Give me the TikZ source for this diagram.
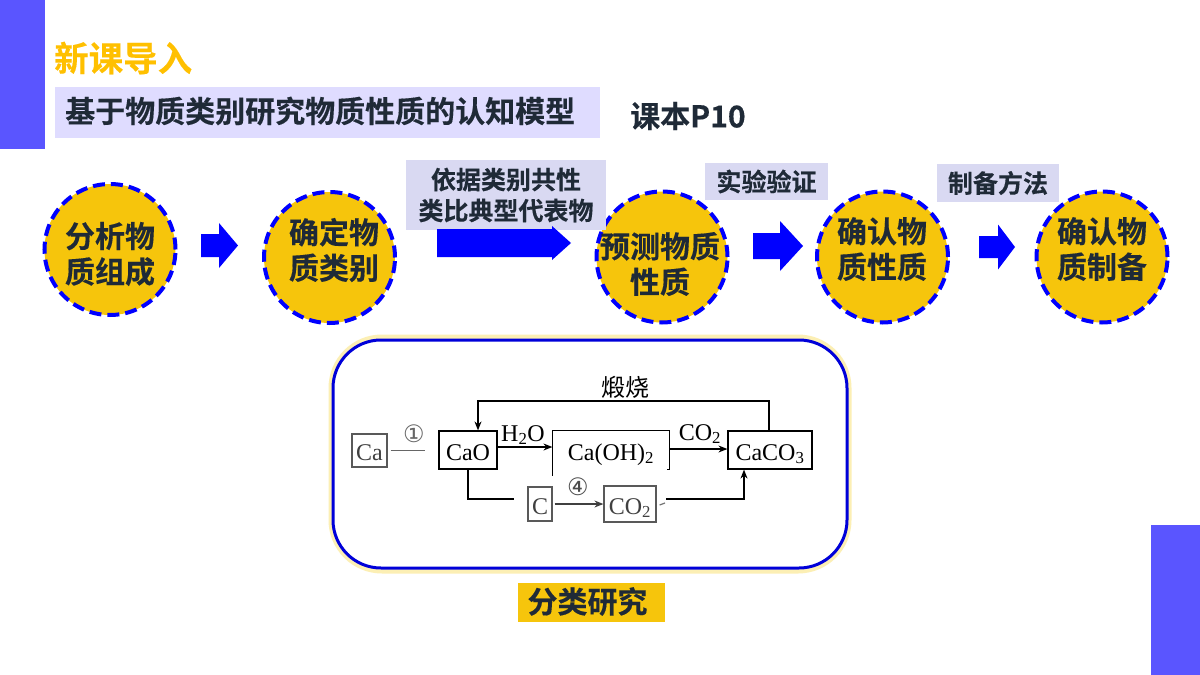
\documentclass[tikz,border=0pt]{standalone}
\usepackage{fontspec}
\setmainfont{Liberation Serif}
\newfontfamily\cjkb[FakeBold=0.3]{Noto Sans CJK SC Bold}
\newfontfamily\cjkr{Noto Sans CJK SC}
\newfontfamily\symf{DejaVu Sans}
\usetikzlibrary{arrows.meta}
\definecolor{barblue}{HTML}{5A55FF}
\definecolor{lilac}{HTML}{DFDCFF}
\definecolor{lilacb}{HTML}{D9D9F2}
\definecolor{gold}{HTML}{F6C50C}
\definecolor{titlegold}{HTML}{FFC000}
\definecolor{inkdark}{HTML}{1F2A37}
\definecolor{glow}{HTML}{FCEFB4}
\newcommand{\blockarrow}[6]{\fill[blue] (#1,#4-#5) -- (#3,#4-#5) -- (#3,#4-#6) -- (#2,#4) -- (#3,#4+#6) -- (#3,#4+#5) -- (#1,#4+#5) -- cycle;}
\newcommand{\fs}[1]{\fontsize{#1}{#1}\selectfont}
\newcommand{\fsl}[2]{\fontsize{#1}{#2}\selectfont}
\tikzset{
 x=1pt,y=-1pt,
 bar/.style={fill=barblue,draw=none},
 stepc/.style={circle,minimum size=131pt,inner sep=0pt,fill=gold,draw=blue,line width=4pt,dash pattern=on 12pt off 6pt},
 steptext/.style={inner sep=0pt,text=inkdark,align=center,font=\cjkb\fsl{30}{35.5}},
 tag/.style={fill=lilacb,text=inkdark,font=\cjkb\fsl{25}{31},inner sep=0pt,align=center},
 chem/.style={draw=black,line width=1.2pt,inner sep=0pt,font=\fs{24},text height=20pt,text depth=0pt},
 chemg/.style={draw=black!65,line width=1.2pt,inner sep=0pt,font=\fs{24},text=black!75,text height=20pt,text depth=0pt},
 lab/.style={inner sep=0pt,font=\fs{24}},
 con/.style={draw=black,line width=1.2pt},
 arr/.style={con,-{Stealth[length=9pt,width=7pt]}},
}
\begin{document}
\begin{tikzpicture}
\useasboundingbox (0,0) rectangle (1200,675);
\fill[white] (0,0) rectangle (1200,675);
\path[bar] (0,0) rectangle (45,149);
\path[bar] (1151,525) rectangle (1200,675);
\node[anchor=west,inner sep=0pt,text=titlegold,font=\cjkb\fs{34.5}] (title) at (54,58) {新课导入};
\node[minimum width=545pt,minimum height=51pt,fill=lilac,inner sep=0pt] (subbox) at (327.5,112.5) {};
\node[anchor=west,inner sep=0pt,text=inkdark,font=\cjkb\fs{30}] (sub) at (65,111) {基于物质类别研究物质性质的认知模型};
\node[anchor=west,inner sep=0pt,text=inkdark,font=\cjkb\fs{30}] (book) at (630,116) {课本P10};
\node[stepc] (c1) at (110,249.5) {};
\node[stepc] (c2) at (329.5,257.5) {};
\node[stepc] (c3) at (662,257) {};
\node[stepc] (c4) at (882.5,257) {};
\node[stepc] (c5) at (1102,257) {};
\node[steptext] (s1) at (110,254) {分析物\\质组成};
\node[steptext] (s2) at (334,250) {确定物\\质类别};
\node[steptext] (s3) at (660,264) {预测物质\\性质};
\node[steptext] (s4) at (882,249) {确认物\\质性质};
\node[steptext] (s5) at (1102,249) {确认物\\质制备};
\node[tag,minimum width=200pt,minimum height=70pt] (t1) at (506,195) {依据类别共性\\类比典型代表物};
\node[tag,minimum width=123pt,minimum height=37pt] (t2) at (766.5,181.5) {实验验证};
\node[tag,minimum width=122pt,minimum height=38pt] (t3) at (998,183) {制备方法};
\blockarrow{201}{238}{219}{245.5}{11.5}{22.5}
\blockarrow{437}{571}{552}{243}{14}{17}
\blockarrow{753}{803}{780}{246}{13}{25}
\blockarrow{979}{1015}{998}{247}{11}{22.5}
% frame
\node[minimum width=516pt,minimum height=232pt,rounded corners=50pt,draw=glow,line width=7pt,inner sep=0pt] (frameglow) at (590,454) {};
\node[minimum width=514pt,minimum height=228pt,rounded corners=48pt,draw=blue!85!black,line width=3pt,fill=white,inner sep=0pt] (frame) at (590,454) {};
\node[minimum width=147pt,minimum height=39pt,fill=gold,inner sep=0pt] (clsbox) at (591.5,602.5) {};
\node[text=inkdark,font=\cjkb\fs{30},inner sep=0pt] (cls) at (587.5,601.5) {分类研究};
% scheme
\node[chemg,minimum width=35pt,minimum height=33pt] (ca) at (369.5,450.5) {Ca};
\node[chem,minimum width=58pt,minimum height=38pt] (cao) at (468,450) {CaO};
\node[chem,draw=none,minimum width=116pt,minimum height=38pt] (oh) at (611,450) {Ca(OH)\textsubscript{2}};
\node[chem,minimum width=84pt,minimum height=38pt] (caco) at (770,450) {CaCO\textsubscript{3}};
\node[chemg,minimum width=24pt,minimum height=34pt] (cc) at (540,504) {C};
\node[chemg,minimum width=52pt,minimum height=36pt] (co) at (630,504) {CO\textsubscript{2}};
\node[inner sep=0pt,font=\cjkr\fs{24}] (duan) at (625,387) {煅烧};
\node[lab] (h2o) at (523,435) {H\textsubscript{2}O};
\node[lab] (co2l) at (700,434) {CO\textsubscript{2}};
\node[inner sep=0pt,font=\symf\fs{24},text=black!60] (n1) at (414,434) {①};
\node[inner sep=0pt,font=\symf\fs{24},text=black!70] (n4) at (578,487) {④};
\coordinate (caend) at (425,450.5);
\draw[con,draw=black!60] ([xshift=3pt]ca.east) -- (caend);
\draw[con] ([yshift=-6pt]oh.south west) -- (oh.north west) -- (oh.north east) -- (oh.south east) -- ++(-3,0);
\draw[arr] ([yshift=3pt]cao.east) -- ([yshift=3pt]oh.west);
\draw[arr] ([yshift=1pt]oh.east) -- ([yshift=1pt]caco.west);
\coordinate (topr) at (769,401);
\coordinate (topl) at (478,401);
\draw[arr] (caco.north -| topr) -- (topr) -- (topl) -- (cao.north -| topl);
\coordinate (lowa) at (468,499);
\coordinate (lowb) at (514,499);
\draw[con] (cao.south) -- (lowa) -- (lowb);
\coordinate (lowc) at (666,499);
\coordinate (lowd) at (744,499);
\draw[arr] (lowc) -- (lowd) -- (caco.south -| lowd);
\draw[arr,draw=black!75] ([xshift=2pt]cc.east) -- (co.west);
\coordinate (dash) at (665,503);
\draw[con,draw=black!55] ([xshift=3pt,yshift=-1pt]co.east) -- (dash);
\end{tikzpicture}
\end{document}
